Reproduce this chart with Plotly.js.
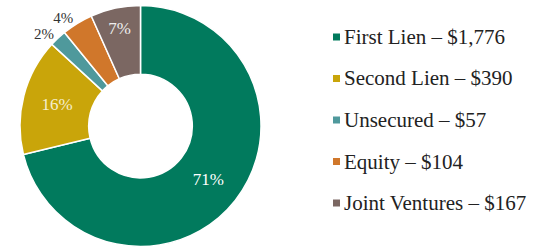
<!DOCTYPE html>
<html>
<head>
<meta charset="utf-8">
<script src="https://cdn.plot.ly/plotly-3.0.1.min.js"></script>
<style>html,body{margin:0;padding:0;background:#fff}#chart{width:539px;height:249px}</style>
</head>
<body>
<div id="chart"></div>
<script>
const categories = ["First Lien", "Second Lien", "Unsecured", "Equity", "Joint Ventures"];
const values = [1776, 390, 57, 104, 167];
const colors = ["#017A5D", "#C9A50A", "#4F999C", "#D0772B", "#7B6762"];
const textPositions = ["inside", "inside", "outside", "outside", "inside"];
const textColors = ["#ffffff", "#f6efcf", "#333333", "#333333", "#eeeeee"];

const legendLabels = categories.map((c, i) => c + " \u2013 $" + values[i].toLocaleString("en-US"));

const W = 539, H = 249;
const legendTop = 37, legendStep = 41.5;
const markerX = 336.5, textX = 342, mk = 7;

const annotations = legendLabels.map((t, i) => ({
  xref: "paper", yref: "paper",
  x: textX / W, y: 1 - (legendTop + i * legendStep) / H,
  xanchor: "left", yanchor: "middle",
  text: t, showarrow: false,
  font: {family: "Liberation Serif, Times New Roman, serif", size: 21, color: "#222222"}
}));
const shapes = colors.map((c, i) => ({
  type: "rect", xref: "paper", yref: "paper",
  x0: (markerX - mk / 2) / W, x1: (markerX + mk / 2) / W,
  y0: 1 - (legendTop + i * legendStep + mk / 2) / H,
  y1: 1 - (legendTop + i * legendStep - mk / 2) / H,
  fillcolor: c, line: {width: 0}
}));

const data = [{
  type: "pie",
  labels: categories,
  values: values,
  hole: 0.43,
  sort: false,
  direction: "clockwise",
  rotation: 0,
  texttemplate: "%{percent:.0%}",
  textinfo: "percent",
  textposition: textPositions,
  insidetextorientation: "horizontal",
  textfont: {family: "Liberation Serif, Times New Roman, serif", size: 17, color: textColors},
  outsidetextfont: {family: "Liberation Serif, Times New Roman, serif", size: 15, color: "#333333"},
  marker: {colors: colors, line: {color: "#ffffff", width: 1.5}},
  domain: {x: [20 / W, 261 / W], y: [1 - 247 / H, 1 - 5 / H]},
  showlegend: false,
  hoverinfo: "none"
}];

const layout = {
  width: W, height: H,
  margin: {l: 0, r: 0, t: 0, b: 0},
  paper_bgcolor: "#ffffff",
  showlegend: false,
  annotations: annotations,
  shapes: shapes
};

Plotly.newPlot("chart", data, layout, {displayModeBar: false, staticPlot: true});
</script>
</body>
</html>
